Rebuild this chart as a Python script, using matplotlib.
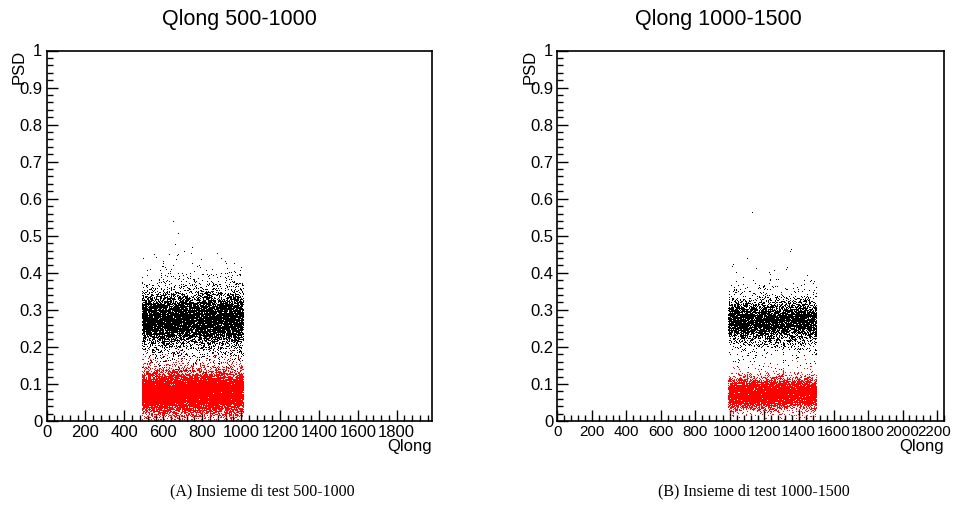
import numpy as np
import matplotlib
matplotlib.use('Agg')
import matplotlib.pyplot as plt
from matplotlib.ticker import MultipleLocator, FormatStrFormatter
from matplotlib.transforms import ScaledTranslation

plt.rcParams['font.family'] = ['Liberation Sans', 'DejaVu Sans']

# event clouds: qlong range, psd mean, core spread, tail spread, tail share, events
panel_titles = ['Qlong 500-1000', 'Qlong 1000-1500']
captions = ['(A) Insieme di test 500-1000', '(B) Insieme di test 1000-1500']
x_max = [1980, 2240]

gamma_q = [(490, 1010), (990, 1500)]
gamma_psd_mean = [0.272, 0.268]
gamma_psd_sd = [0.034, 0.028]
gamma_psd_tail = [0.065, 0.055]
gamma_tail_share = [0.18, 0.15]
gamma_n = [10000, 5500]

neutron_q = [(490, 1010), (990, 1500)]
neutron_psd_mean = [0.074, 0.072]
neutron_psd_sd = [0.027, 0.020]
neutron_psd_tail = [0.045, 0.032]
neutron_tail_share = [0.12, 0.10]
neutron_n = [14000, 7000]

# isolated events far from the bands
outlier_q = [[650, 662, 705, 745, 560], [1130, 1150, 1255]]
outlier_psd = [[0.537, 0.476, 0.455, 0.452, 0.44], [0.562, 0.41, 0.405]]

rng = np.random.default_rng(7)


def cloud(q_range, mean, sd, tail, share, n):
    q = rng.uniform(q_range[0], q_range[1], n)
    spread = np.where(rng.random(n) < share, tail, sd)
    psd = rng.normal(mean, spread)
    keep = psd > 0
    return q[keep], psd[keep]


fig = plt.figure(figsize=(9.54, 5.09), dpi=100)
W, H = 954, 509
frames = [(46.6, 431.7), (557.3, 944.0)]
top, bottom = 50.5, 421.0
title_x = [239, 718]
caption_x = [262, 754]
xtick_size = [12, 10.9]
axes = []

for i in range(2):
    l, r = frames[i]
    ax = fig.add_axes([l / W, 1 - bottom / H, (r - l) / W, (bottom - top) / H])
    axes.append(ax)

    xb, yb = cloud(gamma_q[i], gamma_psd_mean[i], gamma_psd_sd[i],
                   gamma_psd_tail[i], gamma_tail_share[i], gamma_n[i])
    xr, yr = cloud(neutron_q[i], neutron_psd_mean[i], neutron_psd_sd[i],
                   neutron_psd_tail[i], neutron_tail_share[i], neutron_n[i])
    ax.plot(xb, yb, ',', color='black')
    ax.plot(outlier_q[i], outlier_psd[i], ',', color='black')
    ax.plot(xr, yr, ',', color='red')

    ax.set_xlim(0, x_max[i])
    ax.set_ylim(0, 1)
    ax.xaxis.set_major_locator(MultipleLocator(200))
    ax.xaxis.set_minor_locator(MultipleLocator(40))
    ax.yaxis.set_major_locator(MultipleLocator(0.1))
    ax.yaxis.set_minor_locator(MultipleLocator(0.02))
    ax.yaxis.set_major_formatter(FormatStrFormatter('%g'))
    ax.tick_params(which='both', direction='in', top=False, right=False,
                   width=1, labelsize=12)
    ax.tick_params(axis='x', labelsize=xtick_size[i])
    ax.tick_params(which='major', length=8, pad=3)
    ax.tick_params(which='minor', length=4.3)
    for s in ax.spines.values():
        s.set_linewidth(1.2)

    fig.text(title_x[i] / W, 1 - 20 / H, panel_titles[i], ha='center', va='center',
             fontsize=15.5)
    fig.text((l - 27) / W, 1 - 50 / H, 'PSD', rotation=90, ha='center', va='top',
             fontsize=12)
    fig.text(r / W, 1 - 447 / H, 'Qlong', ha='right', va='center', fontsize=12)
    fig.text(caption_x[i] / W, 1 - 491 / H, captions[i], ha='center', va='center',
             fontsize=11.5, family='Liberation Serif')

# keep the last label of the wide axis inside the figure
fig.canvas.draw()
for lbl in axes[1].get_xticklabels():
    if lbl.get_text() == '2200':
        lbl.set_transform(lbl.get_transform() +
                          ScaledTranslation(-3 / 100, 0, fig.dpi_scale_trans))

fig.savefig('out.png', dpi=100)
